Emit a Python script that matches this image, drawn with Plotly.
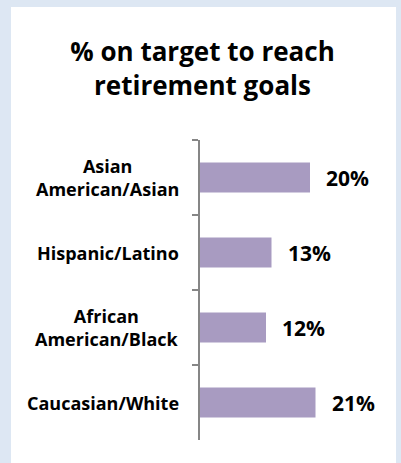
import plotly.graph_objects as go

# Survey share of respondents on target for retirement, by group
groups = ["Asian<br>American/Asian", "Hispanic/Latino", "African<br>American/Black", "Caucasian/White"]
pct_on_target = [20, 13, 12, 21]
value_labels = ["20%", "13%", "12%", "21%"]

W, H = 401, 463
FONT = "'Open Sans', Lato, sans-serif"
BAR_COLOR = "#a89bc1"
AXIS_GRAY = "#868686"

fig = go.Figure(
    go.Bar(
        x=pct_on_target,
        y=groups,
        orientation="h",
        marker=dict(color=BAR_COLOR, line=dict(width=0)),
        hoverinfo="skip",
    )
)

# Category names, centred line by line and right-aligned as a block next to the axis
annotations = [
    dict(
        x=181 / W, xref="paper", y=g, yref="y",
        text=f"<b>{g}</b>", showarrow=False,
        xanchor="right", yanchor="middle", align="center",
        font=dict(family=FONT, size=18, color="#000000"),
    )
    for g in groups
]

# Value labels placed just past the end of each bar
annotations += [
    dict(
        x=v, xref="x", y=g, yref="y",
        text=f"<b>{t}</b>", showarrow=False,
        xanchor="left", yanchor="middle", xshift=14,
        font=dict(family=FONT, size=21, color="#000000"),
    )
    for g, v, t in zip(groups, pct_on_target, value_labels)
]

fig.update_layout(
    width=W, height=H,
    margin=dict(l=0, r=0, t=0, b=0),
    paper_bgcolor="#dde7f3",
    plot_bgcolor="rgba(0,0,0,0)",
    showlegend=False,
    bargap=0.6,
    title=dict(
        text="<b>% on target to reach<br>retirement goals</b>",
        x=0.505, xanchor="center", xref="paper",
        y=1 - 61 / H, yanchor="middle", yref="paper",
        font=dict(family=FONT, size=26, color="#000000"),
    ),
    xaxis=dict(
        domain=[200 / W, 365 / W],
        range=[0, 30],
        visible=False,
        fixedrange=True,
    ),
    yaxis=dict(
        domain=[23 / H, 323 / H],
        autorange="reversed",
        showticklabels=False,
        showgrid=False,
        zeroline=False,
        showline=True,
        linecolor=AXIS_GRAY,
        linewidth=1.5,
        ticks="outside",
        tickson="boundaries",
        ticklen=6,
        tickwidth=1.5,
        tickcolor=AXIS_GRAY,
        fixedrange=True,
    ),
    shapes=[
        dict(
            type="rect", xref="paper", yref="paper",
            x0=11 / W, x1=396 / W, y0=0, y1=1 - 7 / H,
            fillcolor="#ffffff", line=dict(width=0), layer="below",
        )
    ],
    annotations=annotations,
)

fig.write_html("out.html")
